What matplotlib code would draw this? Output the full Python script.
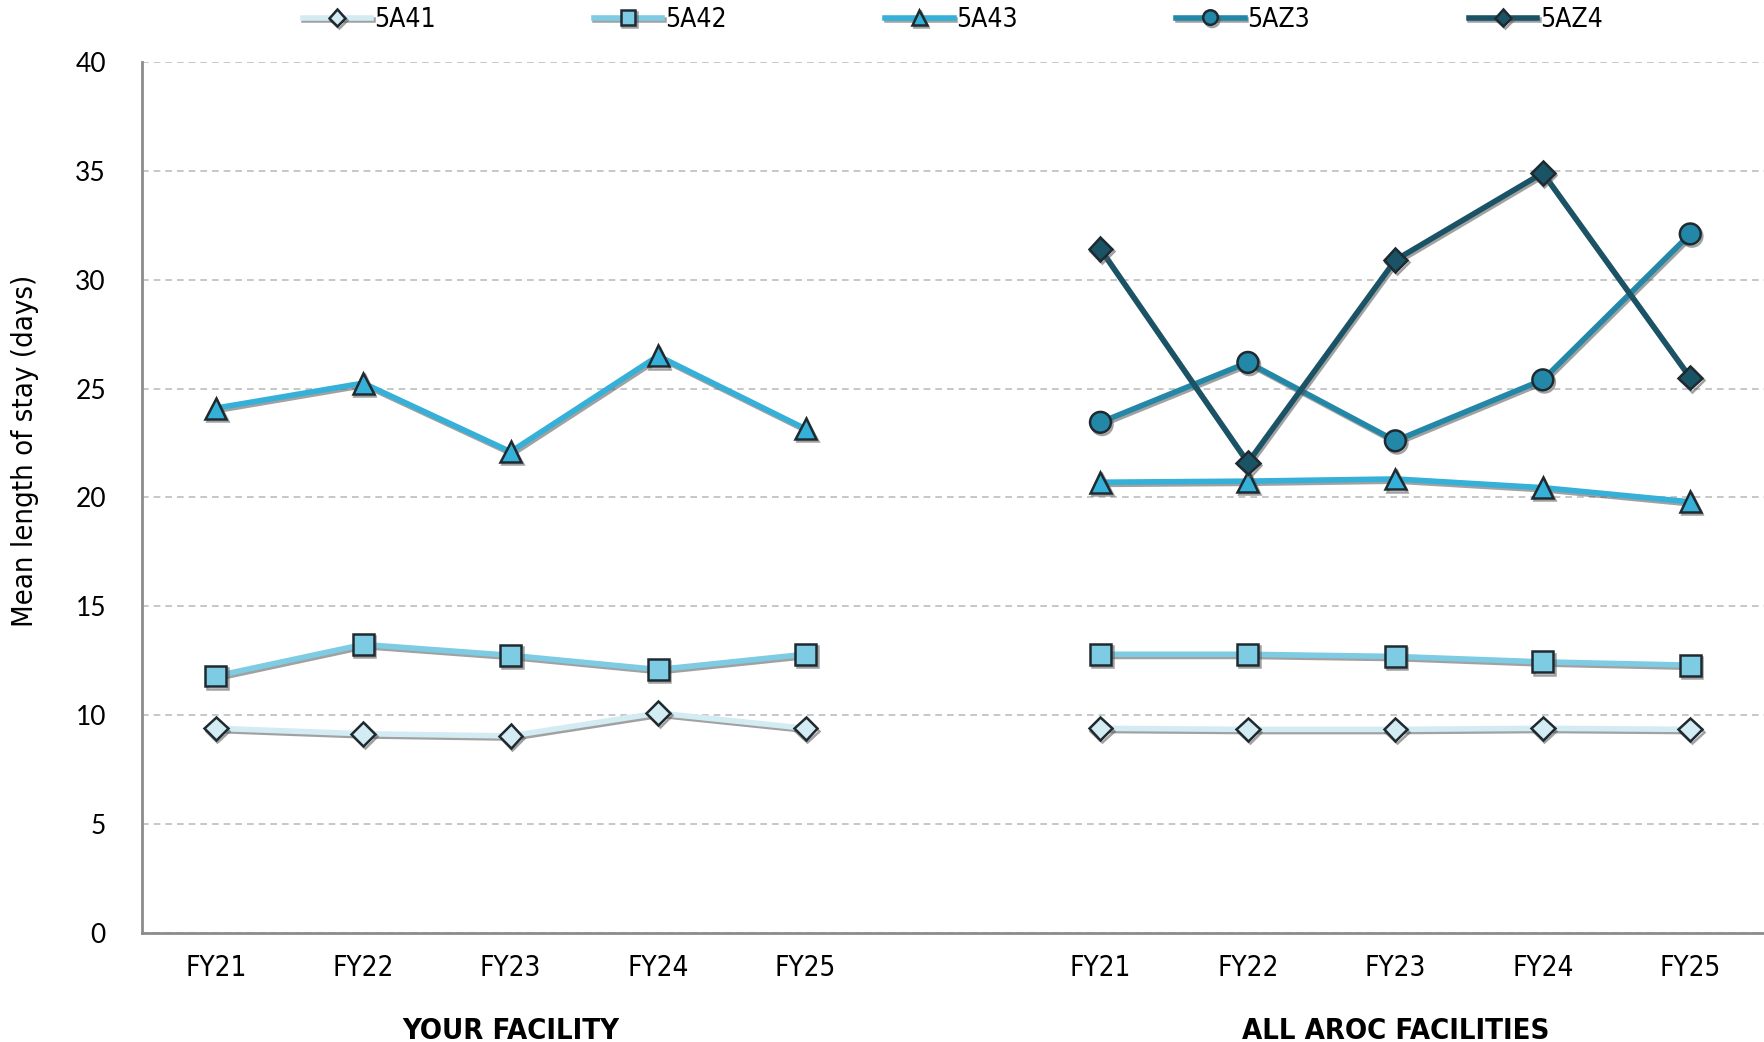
import matplotlib
matplotlib.use('Agg')
import matplotlib.pyplot as plt
import matplotlib.patheffects as pe
from matplotlib.font_manager import FontProperties

# --- data ---
years = ['FY21', 'FY22', 'FY23', 'FY24', 'FY25']
groups = ['YOUR FACILITY', 'ALL AROC FACILITIES']
series = ['5A41', '5A42', '5A43', '5AZ3', '5AZ4']

facility = {
    '5A41': [9.4, 9.15, 9.05, 10.1, 9.4],
    '5A42': [11.8, 13.25, 12.75, 12.1, 12.8],
    '5A43': [24.1, 25.25, 22.1, 26.5, 23.15],
}
aroc = {
    '5A41': [9.4, 9.35, 9.35, 9.4, 9.35],
    '5A42': [12.8, 12.8, 12.7, 12.45, 12.3],
    '5A43': [20.7, 20.75, 20.85, 20.45, 19.8],
    '5AZ3': [23.45, 26.2, 22.6, 25.4, 32.1],
    '5AZ4': [31.4, 21.6, 30.9, 34.9, 25.5],
}

colors = {'5A41': '#D3ECF3', '5A42': '#7DCCE4', '5A43': '#35B0D8',
          '5AZ3': '#2387A7', '5AZ4': '#1B5366'}
markers = {'5A41': ('D', 12), '5A42': ('s', 15), '5A43': ('^', 15),
           '5AZ3': ('o', 15), '5AZ4': ('D', 12)}


def narrow(size, weight='normal'):
    return FontProperties(family='DejaVu Sans', stretch='condensed',
                          size=size, weight=weight)


TICKFONT = ['Lato', 'DejaVu Sans']

fig = plt.figure(figsize=(17.64, 10.42), dpi=100)
ax = fig.add_axes([0.0805, 0.1046, 0.9195, 0.836])

shadow = [pe.SimpleLineShadow(offset=(1.2, -1.6), shadow_color='#555555', alpha=0.55),
          pe.Normal()]

x_fac = list(range(len(years)))
x_all = [i + len(years) + 1 for i in range(len(years))]

handles = {}
for name in series:
    m, ms = markers[name]
    kw = dict(color=colors[name], lw=4, marker=m, markersize=ms,
              markerfacecolor=colors[name],
              markeredgecolor='#1E2A30', markeredgewidth=1.8,
              path_effects=shadow, zorder=3, solid_joinstyle='round')
    if name in facility:
        ax.plot(x_fac, facility[name], **kw)
    ln, = ax.plot(x_all, aroc[name], **kw)
    handles[name] = ln

ax.set_xlim(-0.5, 10.5)
ax.set_ylim(0, 40)
ax.set_yticks(range(0, 41, 5))
ax.yaxis.grid(True, linestyle=(0, (4, 3)), color='#BDBDBD', linewidth=1.2)
ax.set_axisbelow(True)
for s in ['top', 'right']:
    ax.spines[s].set_visible(False)
for s in ['left', 'bottom']:
    ax.spines[s].set_color('#8C8C8C')
    ax.spines[s].set_linewidth(2)
ax.tick_params(axis='y', length=0, pad=26, labelsize=19)
ax.tick_params(axis='x', length=0, pad=15)
for t in ax.get_yticklabels():
    t.set_family(TICKFONT)

ax.set_xticks(x_fac + x_all)
ax.set_xticklabels(years + years, fontproperties=narrow(20))

ax.set_ylabel('Mean length of stay (days)', fontproperties=narrow(21), va='center')
ax.yaxis.set_label_coords(-0.072, 0.554)

for xc, g in zip([x_fac[2], x_all[2]], groups):
    ax.text(xc, -0.112, g, transform=ax.get_xaxis_transform(), ha='center',
            va='center', fontproperties=narrow(21, 'bold'), color='black')

leg = fig.legend([handles[n] for n in series], series, loc='center',
                 bbox_to_anchor=(0.54, 0.981), ncol=5, frameon=False,
                 prop=narrow(19), markerscale=0.7,
                 handlelength=2.6, handletextpad=0.1, columnspacing=6.0)

fig.savefig('out.png', dpi=100)
